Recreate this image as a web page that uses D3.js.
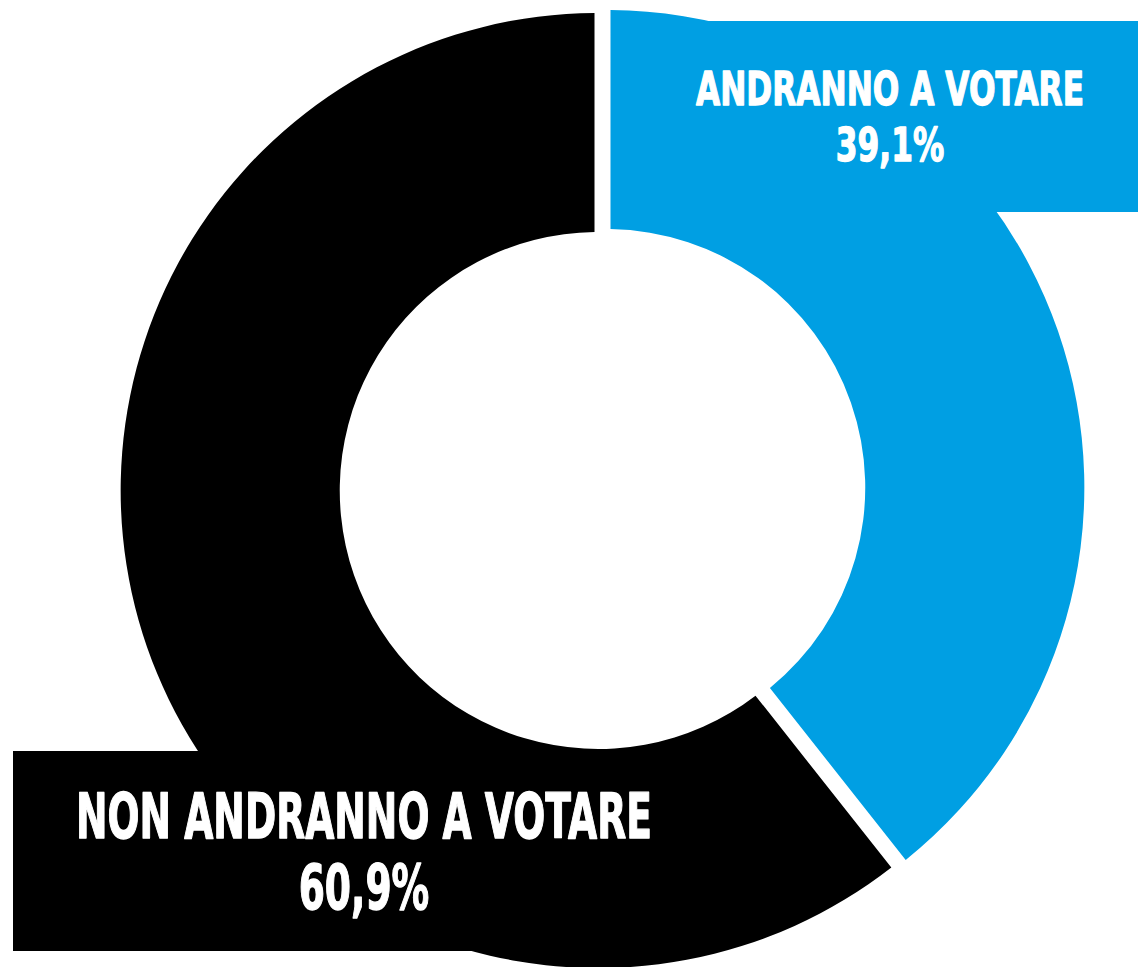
<!DOCTYPE html>
<html>
<head>
<meta charset="utf-8">
<script src="https://cdn.jsdelivr.net/npm/d3@7"></script>
<style>
body { margin: 0; background: #fff; }
svg { display: block; }
</style>
</head>
<body>
<svg id="chart" width="1138" height="967"></svg>
<script>
// data
var categories = ["ANDRANNO A VOTARE", "NON ANDRANNO A VOTARE"],
    values = [39.1, 60.9],
    valueLabels = ["39,1%", "60,9%"],
    colors = ["#009fe3", "#000000"];

// layout
var cx = 602.5, cy = 489,
    outerR = 477.6, innerR = 258.5,
    explode = 4.5,
    gap = 7.5;

// label boxes: [x0, y0, x1, y1], text centre, baselines, cap height, line-1 width
var boxes = [
    {rect: [642, 21, 1138, 212], tx: 890, base: [105, 161], cap: 33.5, w: 388},
    {rect: [13, 751, 716, 951], tx: 364, base: [838, 909], cap: 45.5, w: 576}
];

function draw() {
    var svg = d3.select("#chart");

    var pie = d3.pie().sort(null).value(d => d).padAngle(gap / 100),
        arc = d3.arc().innerRadius(innerR).outerRadius(outerR).padRadius(100);

    var arcs = pie(values);

    svg.append("g")
        .attr("transform", "translate(" + [cx, cy] + ")")
        .selectAll("path")
        .data(arcs)
        .enter().append("path")
        .attr("fill", (d, i) => colors[i])
        .attr("transform", d => {
            var mid = (d.startAngle + d.endAngle) / 2;
            return "translate(" + [Math.sin(mid) * explode, -Math.cos(mid) * explode] + ")";
        })
        .attr("d", arc);

    var labels = svg.append("g").selectAll("g")
        .data(boxes)
        .enter().append("g");

    labels.append("rect")
        .attr("x", d => d.rect[0]).attr("y", d => d.rect[1])
        .attr("width", d => d.rect[2] - d.rect[0])
        .attr("height", d => d.rect[3] - d.rect[1])
        .attr("fill", (d, i) => colors[i]);

    labels.each(function(b, i) {
        var g = d3.select(this),
            size = b.cap / 0.729,
            t = g.append("g");

        t.append("text").attr("y", b.base[0]).text(categories[i]);
        t.append("text").attr("y", b.base[1]).text(valueLabels[i]);

        // heavier strokes to get closer to the condensed display face
        t.selectAll("text")
            .attr("x", 0)
            .attr("text-anchor", "middle")
            .attr("fill", "#fff")
            .attr("stroke", "#fff")
            .attr("stroke-width", 1.4)
            .attr("stroke-linejoin", "round")
            .style("font-family", "'DejaVu Sans', sans-serif")
            .style("font-weight", "bold")
            .style("font-size", size + "px");

        var len = t.select("text").node().getComputedTextLength(),
            sx = b.w / len;
        t.attr("transform", "translate(" + b.tx + ",0) scale(" + sx + ",1)");
    });
}

draw();
</script>
</body>
</html>
